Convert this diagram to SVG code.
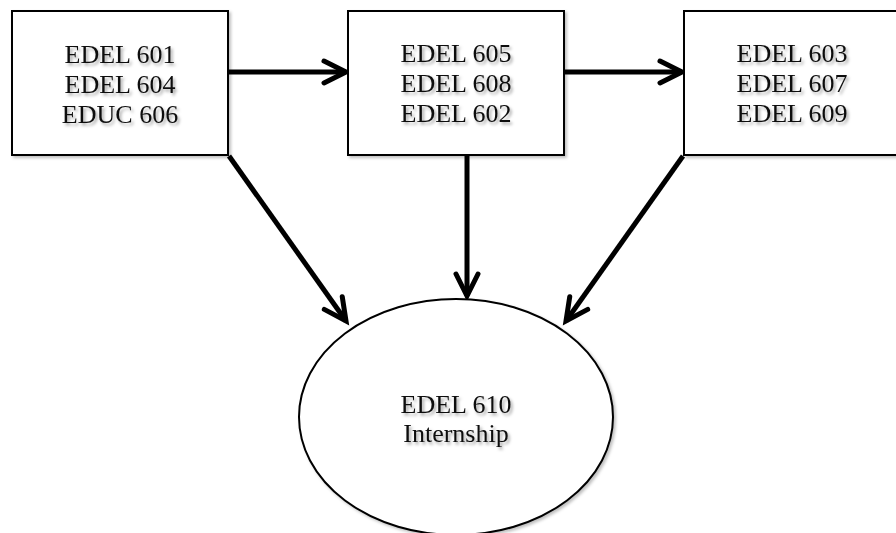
<svg xmlns="http://www.w3.org/2000/svg" width="896" height="533" viewBox="0 0 896 533">
<style>
  .box { fill: #ffffff; stroke: #000000; stroke-width: 2; filter: url(#boxShadow); }
  .lbl { font-family: "Liberation Serif", "Times New Roman", serif; font-size: 26px; fill: #111111; text-anchor: middle; filter: url(#txtShadow); }
  .conn { stroke: #000000; stroke-width: 5; fill: none; stroke-linecap: butt; marker-end: url(#chev); }
</style>
<defs>
  <filter id="txtShadow" x="-20%" y="-40%" width="140%" height="180%">
    <feDropShadow dx="2" dy="2.5" stdDeviation="1.5" flood-color="#000000" flood-opacity="0.35"/>
  </filter>
  <filter id="boxShadow" x="-10%" y="-10%" width="120%" height="120%">
    <feDropShadow dx="2" dy="2" stdDeviation="1.5" flood-color="#000000" flood-opacity="0.25"/>
  </filter>
  <marker id="chev" markerUnits="userSpaceOnUse" markerWidth="30" markerHeight="30" refX="24" refY="12" orient="auto" overflow="visible">
    <path d="M2,1 L24,12 L2,23" fill="none" stroke="#000000" stroke-width="5" stroke-linecap="round" stroke-linejoin="miter"/>
  </marker>
</defs>
<rect width="896" height="533" fill="#ffffff"/>
<g id="connectors">
  <line class="conn" x1="228" y1="72" x2="346" y2="72"/>
  <line class="conn" x1="564" y1="72" x2="682" y2="72"/>
  <line class="conn" x1="467" y1="155" x2="467" y2="296"/>
  <line class="conn" x1="229" y1="156" x2="346" y2="321"/>
  <line class="conn" x1="683" y1="156" x2="566" y2="321"/>
</g>
<g id="node-1">
  <rect class="box" x="12" y="11" width="216" height="144"/>
  <text class="lbl" x="120" y="63">EDEL 601</text>
  <text class="lbl" x="120" y="93">EDEL 604</text>
  <text class="lbl" x="120" y="123">EDUC 606</text>
</g>
<g id="node-2">
  <rect class="box" x="348" y="11" width="216" height="144"/>
  <text class="lbl" x="456" y="62">EDEL 605</text>
  <text class="lbl" x="456" y="92">EDEL 608</text>
  <text class="lbl" x="456" y="122">EDEL 602</text>
</g>
<g id="node-3">
  <rect class="box" x="684" y="11" width="216" height="144"/>
  <text class="lbl" x="792" y="62">EDEL 603</text>
  <text class="lbl" x="792" y="92">EDEL 607</text>
  <text class="lbl" x="792" y="122">EDEL 609</text>
</g>
<g id="node-4">
  <ellipse class="box" cx="456" cy="417" rx="157" ry="118"/>
  <text class="lbl" x="456" y="413">EDEL 610</text>
  <text class="lbl" x="456" y="442">Internship</text>
</g>
</svg>
